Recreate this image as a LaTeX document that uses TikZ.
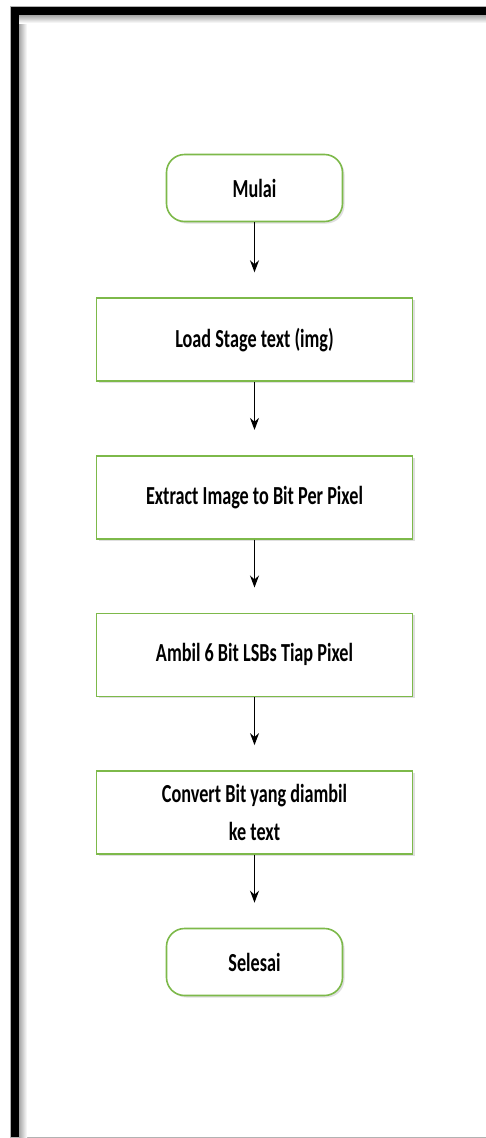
\documentclass[tikz,border=0pt]{standalone}
\usepackage{fontspec}
\setmainfont{Carlito}[FakeStretch=0.7]
\usetikzlibrary{positioning,arrows.meta,shadows}

\definecolor{boxgreen}{HTML}{7DB94A}

\begin{document}
\begin{tikzpicture}[
			x=1pt,y=-1pt,
			thick,
			node distance=73pt,
			terminal/.style={
				draw=boxgreen,
				line width=1.6pt,
				fill=white,
				rectangle,
				rounded corners=18pt,
				minimum width=176pt,
				minimum height=67pt,
				drop shadow={opacity=0.25,shadow xshift=2pt,shadow yshift=-2pt}
			},
			process/.style={
				draw=boxgreen,
				line width=1.6pt,
				fill=white,
				rectangle,
				minimum width=316pt,
				minimum height=83pt,
				align=center,
				drop shadow={opacity=0.25,shadow xshift=2pt,shadow yshift=-2pt}
			},
			flow/.style={-{Stealth[length=12pt,width=9pt]},line width=1.1pt,shorten >=25pt},
			every node/.style={font=\fontsize{26}{38}\selectfont\bfseries}
			]
			% Page frame
			\useasboundingbox (0,0) rectangle (486,1138);
			\fill[white] (0,0) rectangle (486,1138);
			\draw[gray!60,line width=0.8pt] (10.5,1137.5) -- (10.5,6.5) -- (486,6.5);
			\draw[gray!60,line width=0.8pt] (10.5,1137.5) -- (486,1137.5);
			\shade[left color=black!35,right color=white] (19,15) rectangle (27,1137);
			\shade[top color=black!35,bottom color=white] (19,15) rectangle (486,23);
			\fill[black] (11,7) rectangle (19,1137);
			\fill[black] (11,7) rectangle (486,15);

			% Flowchart steps
			\node[terminal] (mulai) at (254.5,188) {Mulai};
			\node[process, below=75pt of mulai] (load) {Load Stage text (img)};
			\node[process, below=of load] (extract) {Extract Image to Bit Per Pixel};
			\node[process, below=of extract] (ambil) {Ambil 6 Bit LSBs Tiap Pixel};
			\node[process, below=of ambil] (convert) {Convert Bit yang diambil\\ke text};
			\node[terminal, below=of convert] (selesai) {Selesai};

			% Connectors
			\draw[flow] (mulai) -- (load);
			\draw[flow] (load) -- (extract);
			\draw[flow] (extract) -- (ambil);
			\draw[flow] (ambil) -- (convert);
			\draw[flow] (convert) -- (selesai);
		\end{tikzpicture}
\end{document}
